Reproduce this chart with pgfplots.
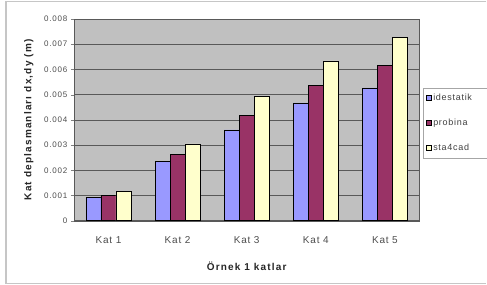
\documentclass[border=0pt]{standalone}
\usepackage{pgfplots}
\pgfplotsset{compat=1.18}
\usepackage{fontspec}
\setmainfont{Liberation Sans}
\definecolor{cblue}{HTML}{9999FF}
\definecolor{cred}{HTML}{993366}
\definecolor{cyel}{HTML}{FFFFCC}
\definecolor{cbg}{HTML}{C0C0C0}
\begin{document}
\begin{tikzpicture}
\begin{axis}[
  name=ax,
  at={(0pt,0pt)}, anchor=south west,
  scale only axis, width=346pt, height=202pt,
  ybar=0pt, bar width=15pt,
  xmin=-0.5, xmax=4.5, ymin=0, ymax=0.008,
  xtick={0,1,2,3,4}, xticklabels={Kat 1,Kat 2,Kat 3,Kat 4,Kat 5},
  major x tick style={draw=none},
  extra x ticks={0.5,1.5,2.5,3.5},
  extra x tick labels={},
  extra x tick style={major tick length=3pt, tick style={gray}, grid=none},
  ytick={0,0.001,0.002,0.003,0.004,0.005,0.006,0.007,0.008},
  yticklabels={0,0.001,0.002,0.003,0.004,0.005,0.006,0.007,0.008},
  scaled y ticks=false,
  ymajorgrids, grid style={gray!70!black, line width=0.6pt},
  axis background/.style={fill=cbg},
  axis line style={gray!70!black},
  tick align=outside, tick pos=left,
  major tick length=3pt,
  y tick label style={font=\fontsize{8}{9}\selectfont\addfontfeature{LetterSpace=10}, text=gray!60!black},
  x tick label style={font=\fontsize{10}{11}\selectfont\addfontfeature{LetterSpace=8}, text=gray!60!black, yshift=-9pt},
  ylabel={Kat deplasmanları dx,dy (m)},
  ylabel style={font=\bfseries\fontsize{10}{11}\selectfont\addfontfeature{LetterSpace=12}, text=gray!30!black, yshift=4pt},
  xlabel={Örnek 1 katlar},
  xlabel style={font=\bfseries\fontsize{10}{11}\selectfont\addfontfeature{LetterSpace=12}, text=gray!30!black, yshift=-6pt},
  legend style={at={(1.0116,0.66)}, anchor=north west, draw=gray!70, fill=white,
    font=\fontsize{9}{10}\selectfont\addfontfeature{LetterSpace=8}, text=gray!50!black, row sep=13pt,
    inner xsep=2pt, inner ysep=4pt, overlay},
  legend image code/.code={\draw[#1, draw=black] (0pt,-2.5pt) rectangle (5pt,2.5pt);},
  legend cell align=left,
  every axis plot/.append style={draw=black, line width=0.6pt},
]
\addplot[fill=cblue] coordinates {(0,0.00091) (1,0.00234) (2,0.00360) (3,0.00467) (4,0.00527)};
\addplot[fill=cred] coordinates {(0,0.00099) (1,0.00263) (2,0.00417) (3,0.00536) (4,0.00615)};
\addplot[fill=cyel] coordinates {(0,0.00115) (1,0.00305) (2,0.00492) (3,0.00634) (4,0.00727)};
\legend{idestatik\hspace*{12pt},probina,sta4cad}
\end{axis}
\path ([shift={(-74pt,-64pt)}]ax.south west) coordinate (BL);
\path ([shift={(413pt,221pt)}]ax.south west) coordinate (TR);
\path (BL) rectangle (TR);
\draw[gray!45, line width=1.2pt] ([shift={(487pt,-1.5pt)}]BL|-TR) -- ([shift={(6pt,-1.5pt)}]BL|-TR) -- ([shift={(6pt,1.5pt)}]BL) -- ([shift={(487pt,1.5pt)}]BL);
\end{tikzpicture}
\end{document}
